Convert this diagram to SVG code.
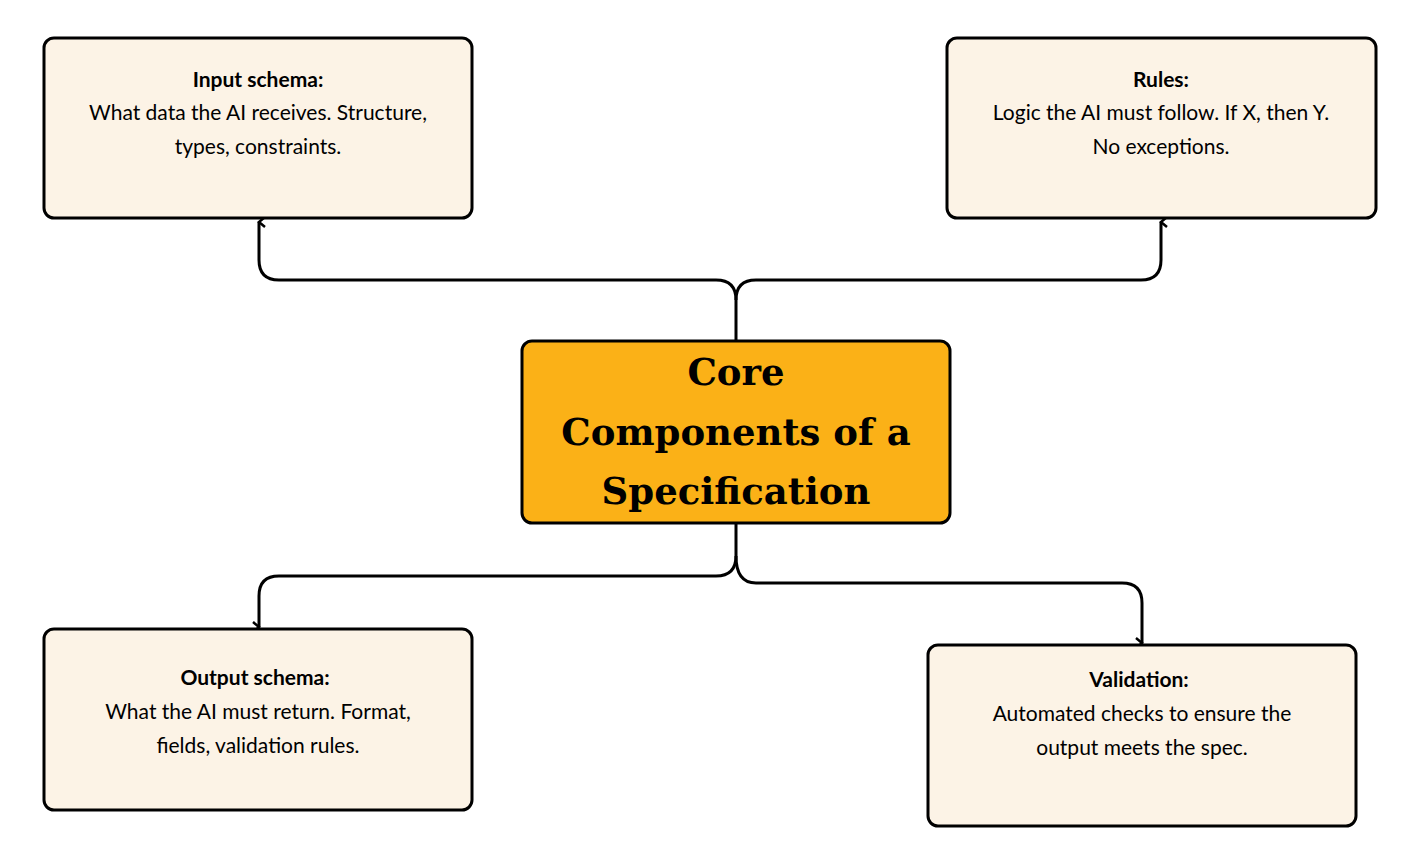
<svg xmlns="http://www.w3.org/2000/svg" width="1425" height="865" viewBox="0 0 1425 865">
<style>
.box{fill:#FCF3E6;stroke:#000;stroke-width:3}
.core{fill:#FBB117;stroke:#000;stroke-width:3}
.h{font-family:Lato,"Liberation Sans",sans-serif;font-weight:bold;font-size:21px;text-anchor:middle;fill:#000}
.t{font-family:Lato,"Liberation Sans",sans-serif;font-size:21px;text-anchor:middle;fill:#000}
.c{font-family:"DejaVu Serif",serif;font-weight:900;font-size:37px;text-anchor:middle;fill:#000}
.ln{fill:none;stroke:#000;stroke-width:3}
</style>
<defs>
<marker id="a" viewBox="0 0 12 12" refX="6" refY="2" markerWidth="12" markerHeight="12" markerUnits="userSpaceOnUse" orient="auto-start-reverse">
<polyline points="1,8 6,2 11,8" fill="none" stroke="#000" stroke-width="2.5"/>
</marker>
</defs>
<rect width="1425" height="865" fill="#fff"/>
<g id="connectors">
<path class="ln" d="M736,341 V300 Q736,280 716,280 H279 Q259,280 259,260 V222" marker-end="url(#a)"/>
<path class="ln" d="M736,300 Q736,280 756,280 H1141 Q1161,280 1161,260 V222" marker-end="url(#a)"/>
<path class="ln" d="M736,523 V556 Q736,576 716,576 H279 Q259,576 259,596 V627" marker-end="url(#a)"/>
<path class="ln" d="M736,556 Q736,583 756,583 H1122 Q1142,583 1142,603 V643" marker-end="url(#a)"/>
</g>
<g id="input">
<rect class="box" x="44" y="38" width="428" height="180" rx="10"/>
<text class="h" x="258" y="87">Input schema:</text>
<text class="t" x="258" y="120">What data the AI receives. Structure,</text>
<text class="t" x="258" y="154">types, constraints.</text>
</g>
<g id="rules">
<rect class="box" x="947" y="38" width="429" height="180" rx="10"/>
<text class="h" x="1161" y="87">Rules:</text>
<text class="t" x="1161" y="120">Logic the AI must follow. If X, then Y.</text>
<text class="t" x="1161" y="154">No exceptions.</text>
</g>
<g id="core">
<rect class="core" x="522" y="341" width="428" height="182" rx="10"/>
<text class="c" x="736" y="385">Core</text>
<text class="c" x="736" y="445">Components of a</text>
<text class="c" x="736" y="504">Specification</text>
</g>
<g id="output">
<rect class="box" x="44" y="629" width="428" height="181" rx="10"/>
<text class="h" x="255" y="685">Output schema:</text>
<text class="t" x="258" y="719">What the AI must return. Format,</text>
<text class="t" x="258" y="753">fields, validation rules.</text>
</g>
<g id="validation">
<rect class="box" x="928" y="645" width="428" height="181" rx="10"/>
<text class="h" x="1139" y="687">Validation:</text>
<text class="t" x="1142" y="721">Automated checks to ensure the</text>
<text class="t" x="1142" y="755">output meets the spec.</text>
</g>
</svg>
